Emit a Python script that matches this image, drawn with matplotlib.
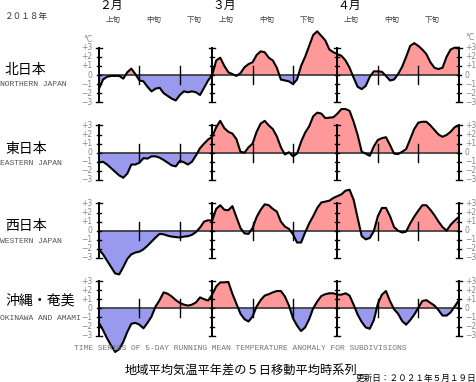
import matplotlib
matplotlib.use("Agg")
import matplotlib.pyplot as plt
import numpy as np

plt.rcParams['font.family'] = ['Noto Sans CJK JP', 'DejaVu Sans']

# days since Feb 1 2018 (0 .. 89)
days = np.arange(90)

north = [-1.5, -0.5, -0.2, -0.1, -0.1, -0.1, -0.4, 0.3, 0.7, 0.1,
         -0.6, -0.7, -1.3, -1.8, -1.5, -1.4, -2.0, -2.3, -2.6, -2.8,
         -2.2, -1.8, -1.9, -1.8, -1.9, -2.2, -1.4, -0.6, 0.0, 1.6,
         1.9, 1.0, 0.3, 0.1, -0.1, 0.2, 0.85, 1.2, 1.4, 2.2,
         2.6, 2.5, 1.9, 1.6, 0.8, -0.5, -0.6, -0.7, -1.0, -0.5,
         1.0, 2.0, 3.2, 4.4, 4.8, 4.3, 3.8, 2.8, 2.5, 2.3,
         2.1, 1.6, 0.8, -0.3, -1.3, -1.55, -1.2, -0.2, 0.4, 0.4,
         0.35, -0.1, -0.6, -0.5, 0.1, 0.9, 2.0, 3.2, 3.5, 3.2,
         2.8, 2.3, 1.4, 0.8, 0.65, 0.8, 2.0, 2.8, 3.0, 3.0]

east = [-1.05, -1.0, -1.3, -1.7, -2.1, -2.5, -2.75, -2.3, -1.3, -1.3,
        -1.1, -0.6, -0.65, -0.4, -0.4, -0.55, -0.8, -1.1, -1.4, -1.5,
        -0.9, -1.05, -1.3, -1.0, -0.3, 0.5, 1.0, 1.45, 1.75, 2.8,
        3.5, 2.7, 2.3, 2.1, 1.5, 0.1, 0.0, 0.6, 1.0, 2.3,
        3.2, 3.5, 3.0, 2.6, 1.8, 0.6, -0.2, 0.05, -0.4, -0.1,
        1.2, 2.2, 2.9, 4.0, 4.4, 4.3, 3.8, 3.85, 3.9, 4.3,
        4.8, 4.8, 4.6, 3.4, 1.95, 0.1, -0.1, -0.35, 0.7, 1.4,
        1.6, 1.7, 0.85, -0.1, -0.15, 0.1, 0.4, 1.5, 2.6, 3.3,
        3.4, 3.4, 3.0, 2.5, 2.0, 1.75, 1.95, 2.3, 2.8, 3.0]

west = [-2.1, -2.6, -3.3, -4.0, -4.7, -4.8, -4.0, -3.1, -2.6, -2.4,
        -2.3, -2.05, -1.65, -1.2, -0.75, -0.35, -0.4, -0.55, -0.65, -0.7,
        -0.75, -0.65, -0.6, -0.45, -0.15, 0.35, 1.0, 1.15, 1.1, 2.4,
        2.8, 2.3, 2.25, 2.7, 1.5, 0.3, -0.3, -0.35, 0.3, 1.5,
        2.3, 2.9, 2.8, 2.4, 2.1, 1.0, 0.45, 0.2, -0.4, -1.3,
        -1.3, -0.2, 0.8, 1.6, 2.5, 3.1, 3.2, 3.3, 3.6, 3.8,
        4.0, 4.4, 4.5, 3.4, 1.4, -0.6, -0.95, -0.8, -0.05, 1.6,
        2.5, 2.5, 1.6, 0.4, 0.0, -0.2, -0.1, 0.8, 1.55, 2.2,
        2.8, 2.8, 2.3, 1.7, 1.0, 0.4, 0.0, 0.65, 1.1, 1.5]

okinawa = [-1.6, -2.4, -3.3, -4.1, -4.8, -4.5, -3.7, -2.6, -1.7, -1.6,
           -1.8, -2.2, -1.6, -0.9, 0.2, 0.9, 1.75, 1.6, 1.3, 0.9,
           0.6, 0.4, 0.3, 0.4, 0.65, 1.2, 1.0, 0.85, 1.5, 2.4,
           2.85, 2.85, 2.9, 1.6, 0.5, -0.6, -1.2, -1.45, -0.9, 0.2,
           0.9, 1.4, 1.55, 1.75, 1.9, 1.9, 1.3, 0.3, -1.1, -1.9,
           -2.5, -2.1, -1.2, 0.0, 0.75, 1.35, 1.55, 1.65, 1.65, 1.5,
           1.5, 1.65, 1.4, 0.4, -0.7, -1.5, -2.1, -2.25, -1.3, 0.5,
           1.5, 1.9, 0.8, -0.1, -0.6, -1.4, -1.8, -1.3, -0.7, 0.05,
           0.8, 0.9, 0.6, 0.3, -0.2, -0.8, -0.8, -0.45, 0.2, 0.85]

series = [north, east, west, okinawa]
names_jp = ['北日本', '東日本', '西日本', '沖縄・奄美']
names_en = ['NORTHERN JAPAN', 'EASTERN JAPAN', 'WESTERN JAPAN', 'OKINAWA AND AMAMI']

month_days = [0, 28, 59, 89]
month_labels = ['２月', '３月', '４月']
dekad_days = [10, 20, 38, 48, 69, 79]
dekad_labels = ['上旬', '中旬', '下旬']
ytick_vals = [3, 2, 1, 0, -1, -2, -3]
ytick_labels = ['+3', '+2', '+1', '0', '−1', '−2', '−3']

W, H = 476, 382
fig = plt.figure(figsize=(W / 100, H / 100), dpi=100)


def ftext(x, y, s, **kw):
    fig.text(x / W, 1 - y / H, s, **kw)


x0, x1 = 99, 458.7
ppd = 9.1  # pixels per degree
zeros = [75, 152.7, 230.7, 308.3]
name_y = [(70, 85), (148.5, 163.3), (226, 242), (300.7, 319)]

gray = '#888888'
for i, vals in enumerate(series):
    z = zeros[i]
    ax = fig.add_axes([x0 / W, 1 - (z + 5 * ppd) / H, (x1 - x0) / W, 10 * ppd / H])
    ax.set_xlim(0, 89)
    ax.set_ylim(-5, 5)
    ax.axis('off')
    v = np.array(vals)
    ax.fill_between(days, v, 0, where=v >= 0, interpolate=True, color='#ff9999', lw=0, clip_on=False)
    ax.fill_between(days, v, 0, where=v <= 0, interpolate=True, color='#9999ee', lw=0, clip_on=False)
    ax.plot([0, 89], [0, 0], color='#333333', lw=1.2, clip_on=False)
    ax.plot(days, v, color='black', lw=1.5, clip_on=False, solid_joinstyle='round')
    for d in month_days:
        ax.plot([d, d], [-3, 3], color='black', lw=1.4, clip_on=False)
        for t in ytick_vals:
            w = 0.75 if abs(t) == 3 else 0.5
            ax.plot([d - w, d + w], [t, t], color='black', lw=1.0, clip_on=False)
    for d in dekad_days:
        ax.plot([d, d], [-1, 1], color='black', lw=1.0, clip_on=False)
    for t, lab in zip(ytick_vals, ytick_labels):
        ax.text(-1.7, t, lab, ha='right', va='center', fontsize=5.5, color=gray,
                family='DejaVu Sans')
        ax.text(90.5, t, lab, ha='left', va='center', fontsize=5.5, color=gray,
                family='DejaVu Sans')
    if i == 0:
        ax.text(-1.7, 3.9, '°C', ha='right', va='center', fontsize=5.5, color=gray,
                family='DejaVu Sans')
        ax.text(90.5, 4.1, '°C', ha='left', va='center', fontsize=5.5, color=gray,
                family='DejaVu Sans')
    ftext(5, name_y[i][0], names_jp[i], ha='left', va='center', fontsize=10)
    ftext(0, name_y[i][1], names_en[i], ha='left', va='center', fontsize=5.8,
          color='#555555', family='Liberation Mono')

# header
ftext(5, 16, '２０１８年', ha='left', va='center', fontsize=6.2, color='#333333')
for d, lab in zip(month_days[:3], month_labels):
    ftext(x0 + d * (x1 - x0) / 89, 5, lab, ha='left', va='center', fontsize=8.5)
    for k, dl in enumerate(dekad_labels):
        ftext(x0 + (d + 10 * k + 3.5) * (x1 - x0) / 89, 20, dl, ha='center', va='center',
              fontsize=5.4, color='#444444')

# footer
ftext(240, 348, 'TIME SERIES OF 5-DAY RUNNING MEAN TEMPERATURE ANOMALY FOR SUBDIVISIONS',
      ha='center', va='center', fontsize=5.8, color='#777777', family='Liberation Mono')
ftext(241, 370, '地域平均気温平年差の５日移動平均時系列', ha='center', va='center', fontsize=8.8)
ftext(476, 378, '更新日：２０２１年５月１９日', ha='right', va='center', fontsize=6.2)

fig.savefig('out.png', dpi=100)
